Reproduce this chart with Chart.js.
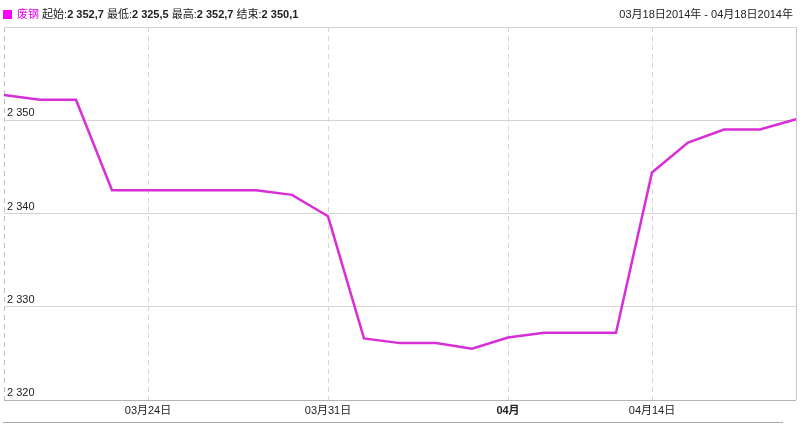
<!DOCTYPE html>
<html>
<head>
<meta charset="utf-8">
<script src="https://cdn.jsdelivr.net/npm/chart.js@4/dist/chart.umd.min.js"></script>
<style>
  html, body { margin: 0; padding: 0; background: #fff; }
  #wrap { position: relative; width: 800px; height: 424px; overflow: hidden; font-family: "Liberation Sans", Arial, "Noto Sans CJK SC", sans-serif; font-size: 11px; color: #222; }
  #c { position: absolute; left: 0; top: 0; }
  #hdr { position: absolute; left: 3px; top: 7px; white-space: nowrap; line-height: 14px; }
  #hdr .sq { display: inline-block; width: 9px; height: 9px; background: #f0f; margin-right: 5px; vertical-align: -1px; }
  #hdr .nm { color: #e000e0; }
  #hdr b { font-weight: bold; }
  #rng { position: absolute; right: 7px; top: 7px; white-space: nowrap; line-height: 14px; }
  #bl { position: absolute; left: 3px; top: 422px; width: 780px; height: 0; border-top: 1px solid #aaa; }
</style>
</head>
<body>
<div id="wrap">
  <canvas id="c" width="800" height="424"></canvas>
  <div id="hdr"><span class="sq"></span><span class="nm">废钢</span> 起始:<b>2 352,7</b> 最低:<b>2 325,5</b> 最高:<b>2 352,7</b> 结束:<b>2 350,1</b></div>
  <div id="rng">03月18日2014年 - 04月18日2014年</div>
  <div id="bl"></div>
</div>
<script>
const categories = ["03月18日","03月19日","03月20日","03月21日","03月24日","03月25日","03月26日","03月27日","03月28日","03月31日","04月01日","04月02日","04月03日","04月04日","04月08日","04月09日","04月10日","04月11日","04月14日","04月15日","04月16日","04月17日","04月18日"];
const values = [2352.7, 2352.2, 2352.2, 2342.5, 2342.5, 2342.5, 2342.5, 2342.5, 2342.0, 2339.7, 2326.6, 2326.1, 2326.1, 2325.5, 2326.7, 2327.2, 2327.2, 2327.2, 2344.4, 2347.6, 2349.0, 2349.0, 2350.1];
const tickCategories = ["03月24日","03月31日","04月08日","04月14日"];
const tickLabels = ["03月24日","03月31日","04月","04月14日"];
const boldTicks = ["04月"];
const yMin = 2320, yMax = 2360, yStep = 10;

const tickIdx = tickCategories.map(c => categories.indexOf(c));
const lastIdx = categories.length - 1;
function fmt(v) { return String(v).replace(/\B(?=(\d{3})+(?!\d))/g, ' '); }
const FONT = '"Liberation Sans", Arial, "Noto Sans CJK SC", sans-serif';
function tv(ctx) { return ctx.tick ? ctx.tick.value : -1; }

new Chart(document.getElementById('c'), {
  type: 'line',
  data: {
    labels: categories,
    datasets: [{
      label: '废钢',
      data: values,
      borderColor: '#d82ed8',
      borderWidth: 2.5,
      pointRadius: 0,
      tension: 0,
      fill: false
    }]
  },
  options: {
    responsive: false,
    animation: false,
    devicePixelRatio: 1,
    layout: { padding: { left: 3, right: 4, top: 27, bottom: 0 } },
    plugins: { legend: { display: false }, tooltip: { enabled: false } },
    scales: {
      x: {
        type: 'category',
        offset: false,
        afterFit: s => { s.height = 24; },
        border: { display: false, dash: ctx => (tv(ctx) === lastIdx ? [] : [5, 4]) },
        grid: {
          drawTicks: false,
          lineWidth: 1,
          color: ctx => {
            const v = tv(ctx);
            if (v === lastIdx) return '#c8c8c8';
            if (v === 0) return '#bdbdbd';
            return tickIdx.includes(v) ? '#d6d6d6' : 'rgba(0,0,0,0)';
          }
        },
        ticks: {
          autoSkip: false,
          maxRotation: 0,
          minRotation: 0,
          padding: 4,
          color: '#222',
          font: ctx => {
            const k = tickIdx.indexOf(tv(ctx));
            const bold = k >= 0 && boldTicks.includes(tickLabels[k]);
            return { family: FONT, size: 11, weight: bold ? 'bold' : 'normal' };
          },
          callback: (v) => {
            const k = tickIdx.indexOf(v);
            if (k >= 0) return tickLabels[k];
            if (v === 0 || v === lastIdx) return '';
            return null;
          }
        }
      },
      y: {
        min: yMin,
        max: yMax,
        afterFit: s => { s.width = 0; },
        border: { display: false },
        grid: {
          drawTicks: false,
          lineWidth: 1,
          color: ctx => (ctx.tick && ctx.tick.value === yMin ? '#b4b4b4' : '#d4d4d4')
        },
        ticks: {
          stepSize: yStep,
          mirror: true,
          padding: 3,
          labelOffset: -7,
          color: '#222',
          font: { family: FONT, size: 11 },
          callback: v => (v === yMax ? '' : fmt(v))
        }
      }
    }
  }
});
</script>
</body>
</html>
